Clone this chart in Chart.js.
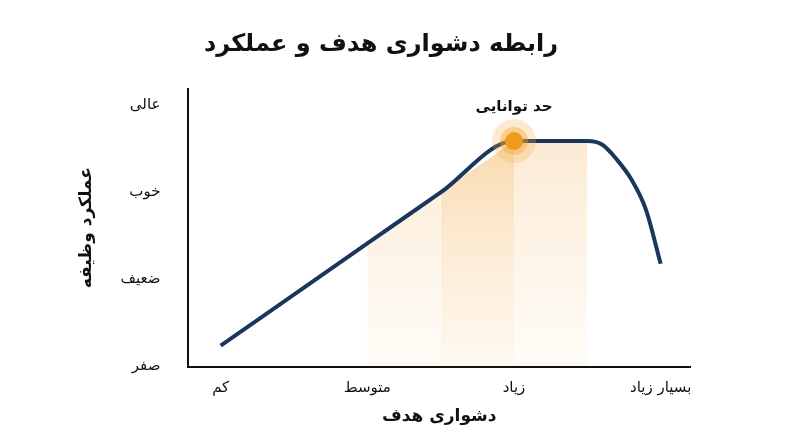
<!DOCTYPE html><html><head><meta charset="utf-8">
<script src="https://cdn.jsdelivr.net/npm/chart.js@4"></script>
<style>body{margin:0;background:#fff}#w{width:800px;height:447px}</style></head><body><div id="w"><canvas id="c"></canvas></div>
<script>
const xLabels=['کم','متوسط','زیاد','بسیار زیاد'];
const yLabels=['صفر','ضعیف','خوب','عالی'];
const lineX=[0,1,1.5,2,2.5,2.6,2.7,2.8,2.9,3];
const lineY=[0.24,1.415,2.0,2.59,2.59,2.55,2.38,2.15,1.8,1.18];
const peak={x:2,y:2.59,label:'حد توانایی'};
const F='"DejaVu Sans","Noto Sans",sans-serif';
const pts=lineX.map((x,i)=>({x,y:lineY[i]}));
function yAt(x){for(let i=0;i<lineX.length-1;i++){if(x>=lineX[i]&&x<=lineX[i+1]){const t=(x-lineX[i])/(lineX[i+1]-lineX[i]);return lineY[i]+t*(lineY[i+1]-lineY[i]);}}return 0;}
function band(a,b){return [{x:a,y:yAt(a)},{x:b,y:yAt(b)}];}
function grad(alpha){return ctx=>{const ca=ctx.chart.chartArea;if(!ca)return 'rgba(0,0,0,0)';const g=ctx.chart.ctx.createLinearGradient(0,ca.top,0,ca.bottom);g.addColorStop(0,`rgba(240,165,70,${alpha})`);g.addColorStop(1,`rgba(250,215,160,${alpha*0.3})`);return g;};}
const bandDs=(d,a)=>({data:d,showLine:true,fill:'origin',backgroundColor:grad(a),borderWidth:0,pointRadius:0,tension:0,order:5});
new Chart(document.getElementById('c'),{type:'scatter',
data:{datasets:[
{data:pts,showLine:true,borderColor:'#1b365d',borderWidth:4,pointRadius:0,fill:false,order:0,cubicInterpolationMode:'monotone'},
{data:[{x:peak.x,y:peak.y}],pointRadius:22,pointBackgroundColor:'rgba(245,170,60,0.25)',pointBorderWidth:0,order:-1},
{data:[{x:peak.x,y:peak.y}],pointRadius:14,pointBackgroundColor:'rgba(245,165,50,0.4)',pointBorderWidth:0,order:-2},
{data:[{x:peak.x,y:peak.y}],pointRadius:9,pointBackgroundColor:'#ef9a1e',pointBorderWidth:0,order:-3},
bandDs(band(1,1.5),0.3),
bandDs(band(1.5,2),0.55),
bandDs(band(2,2.5),0.3)
]},
options:{responsive:true,maintainAspectRatio:false,animation:false,
layout:{padding:{left:72,right:110,top:10,bottom:16}},
plugins:{legend:{display:false},tooltip:{enabled:false},
title:{display:true,text:'رابطه دشواری هدف و عملکرد',font:{family:F,size:24,weight:'bold'},color:'#111',padding:{top:20,bottom:30}}},
scales:{
x:{type:'linear',min:-0.22,max:3.2,afterBuildTicks:s=>{s.ticks=[0,1,2,3].map(v=>({value:v}));},
ticks:{callback:v=>xLabels[v],font:{family:F,size:15},color:'#111',padding:5,maxRotation:0},
grid:{display:false},border:{color:'#111',width:2},
title:{display:true,text:'دشواری هدف',font:{family:F,size:17,weight:'bold'},color:'#111',padding:{top:4}}},
y:{min:0,max:3.19,afterBuildTicks:s=>{s.ticks=[0,1,2,3].map(v=>({value:v}));},
ticks:{callback:v=>yLabels[v],font:{family:F,size:15},color:'#111',padding:20},
grid:{display:false},border:{color:'#111',width:2},
title:{display:true,text:'عملکرد وظیفه',font:{family:F,size:17,weight:'bold'},color:'#111',padding:{bottom:4}}}}},
plugins:[{id:'lbl',afterDatasetsDraw(c){const x=c.scales.x.getPixelForValue(peak.x),y=c.scales.y.getPixelForValue(peak.y);const g=c.ctx;g.save();g.font='bold 15px '+F;g.fillStyle='#111';g.textAlign='center';g.fillText(peak.label,x,y-30);g.restore();}}]
});
</script></body></html>
